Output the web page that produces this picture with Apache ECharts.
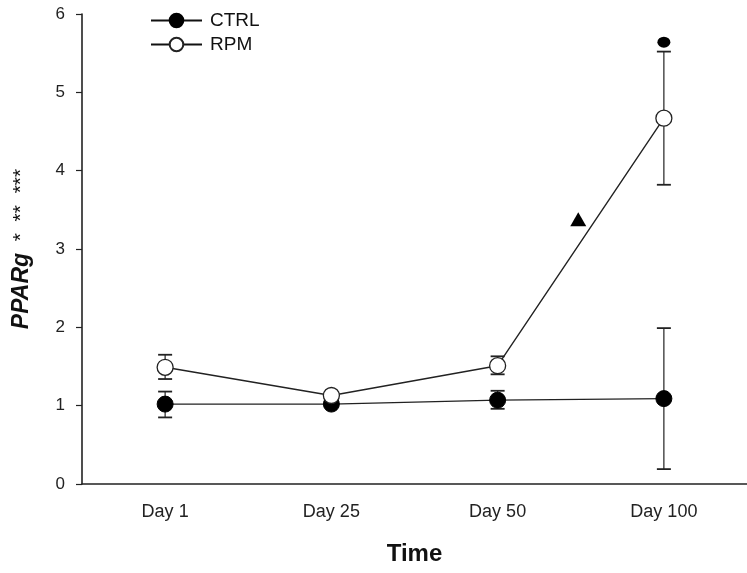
<!DOCTYPE html>
<html><head><meta charset="utf-8">
<script src="https://cdn.jsdelivr.net/npm/echarts@6/dist/echarts.min.js"></script>
<style>html,body{margin:0;padding:0;background:#fff}#c{width:747px;height:573px}</style>
</head><body><div id="c"></div>
<script>
var categories = ['Day 1', 'Day 25', 'Day 50', 'Day 100'];
var ctrlMean = [1.02, 1.02, 1.07, 1.09];
var ctrlLow  = [0.85, 0.98, 0.96, 0.19];
var ctrlHigh = [1.18, 1.06, 1.19, 1.99];
var rpmMean = [1.49, 1.13, 1.51, 4.67];
var rpmLow  = [1.34, 1.10, 1.40, 3.82];
var rpmHigh = [1.65, 1.16, 1.63, 5.52];
var circleMark = [[3, 5.64]];
var triangleMark = [[2.485, 3.38]];

var FONT = 'Liberation Sans, Arial, sans-serif';
function errData(lo, hi) { return lo.map(function (l, i) { return [i, l, hi[i]]; }); }
function errRender(params, api) {
  var x = api.value(0);
  var lo = api.coord([x, api.value(1)]);
  var hi = api.coord([x, api.value(2)]);
  var w = 7;
  return { type: 'group', children: [
    { type: 'line', shape: { x1: lo[0], y1: lo[1], x2: hi[0], y2: hi[1] }, style: { stroke: '#222', lineWidth: 1.2 } },
    { type: 'line', shape: { x1: lo[0] - w, y1: lo[1], x2: lo[0] + w, y2: lo[1] }, style: { stroke: '#222', lineWidth: 1.8 } },
    { type: 'line', shape: { x1: hi[0] - w, y1: hi[1], x2: hi[0] + w, y2: hi[1] }, style: { stroke: '#222', lineWidth: 1.8 } }
  ] };
}
var chart = echarts.init(document.getElementById('c'), null, { renderer: 'canvas' });
chart.setOption({
  animation: false,
  backgroundColor: '#fff',
  grid: { left: 82, right: -10, top: 14, bottom: 89, containLabel: false },
  legend: {
    orient: 'vertical', left: 145, top: 6, itemWidth: 51, itemHeight: 17, itemGap: 5,
    lineStyle: { width: 2, color: '#111' },
    textStyle: { fontFamily: FONT, fontSize: 19, lineHeight: 17, color: '#111', padding: [0, 0, 0, 3] },
    data: ['CTRL', 'RPM']
  },
  xAxis: [{
    type: 'category', data: categories, boundaryGap: true,
    name: 'Time', nameLocation: 'middle', nameGap: 58,
    nameTextStyle: { fontFamily: FONT, fontSize: 24, fontWeight: 'bold', color: '#111' },
    axisLine: { lineStyle: { color: '#222', width: 1.6 } },
    axisTick: { alignWithLabel: true, length: 7, lineStyle: { color: '#222', width: 1.2 } },
    axisLabel: { fontFamily: FONT, fontSize: 18, color: '#222', margin: 19 },
    splitLine: { show: false }
  }, {
    type: 'value', min: -0.5, max: 3.5, show: false
  }],
  yAxis: {
    type: 'value', min: 0, max: 6, interval: 1,
    name: '{a|PPARg}{b|  *  **  ***}', nameLocation: 'middle', nameGap: 49,
    nameTextStyle: {
      rich: {
        a: { fontFamily: FONT, fontSize: 23, fontWeight: 'bold', fontStyle: 'italic', color: '#111' },
        b: { fontFamily: FONT, fontSize: 21, color: '#111' }
      }
    },
    axisLine: { show: true, onZero: false, lineStyle: { color: '#222', width: 1.6 } },
    axisTick: { show: true, length: 6, lineStyle: { color: '#222', width: 1.2 } },
    axisLabel: { fontFamily: FONT, fontSize: 17, color: '#222', margin: 17 },
    splitLine: { show: false }
  },
  series: [
    { type: 'custom', name: 'ctrlErr', renderItem: errRender, data: errData(ctrlLow, ctrlHigh), z: 1, silent: true },
    { type: 'custom', name: 'rpmErr', renderItem: errRender, data: errData(rpmLow, rpmHigh), z: 1, silent: true },
    { type: 'line', name: 'CTRL', data: ctrlMean, symbol: 'circle', symbolSize: 16,
      lineStyle: { color: '#222', width: 1.3 }, itemStyle: { color: '#000', borderColor: '#000', borderWidth: 1 }, z: 3 },
    { type: 'line', name: 'RPM', data: rpmMean, symbol: 'circle', symbolSize: 16,
      lineStyle: { color: '#222', width: 1.4 }, itemStyle: { color: '#fff', borderColor: '#222', borderWidth: 1.3 }, z: 4 },
    { type: 'scatter', name: 'sig1', xAxisIndex: 1, data: circleMark, symbol: 'circle', symbolSize: [13, 11],
      itemStyle: { color: '#000', opacity: 1 }, z: 5 },
    { type: 'scatter', name: 'sig2', xAxisIndex: 1, data: triangleMark, symbol: 'triangle', symbolSize: [16, 14],
      itemStyle: { color: '#000', opacity: 1 }, z: 5 }
  ]
});
</script></body></html>
